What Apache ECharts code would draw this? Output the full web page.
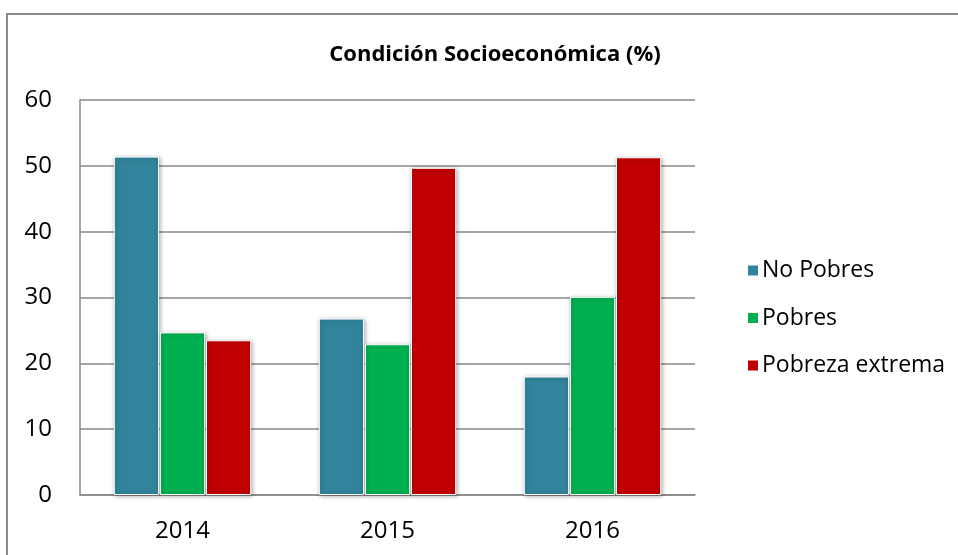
<!DOCTYPE html>
<html>
<head>
<meta charset="utf-8">
<script src="https://cdn.jsdelivr.net/npm/echarts@6/dist/echarts.min.js"></script>
<style>
  html, body { margin: 0; padding: 0; background: #fff; }
  #chart { width: 958px; height: 555px; }
</style>
</head>
<body>
<div id="chart"></div>
<script>
var years = ['2014', '2015', '2016'];
var noPobres = [51.4, 26.8, 18.0];
var pobres = [24.7, 22.9, 30.1];
var pobrezaExtrema = [23.5, 49.7, 51.3];
var seriesNames = ['No Pobres', 'Pobres', 'Pobreza extrema'];
var colors = ['#31849B', '#00B050', '#C00000'];

var myChart = echarts.init(document.getElementById('chart'));

function barSeries(name, data, color) {
  return {
    name: name,
    type: 'bar',
    data: data,
    barGap: '2%',
    barCategoryGap: '33%',
    itemStyle: {
      color: color,
      borderColor: '#fff',
      borderWidth: 1,
      shadowBlur: 4,
      shadowColor: 'rgba(0,0,0,0.3)',
      shadowOffsetX: 1,
      shadowOffsetY: 1
    }
  };
}

var option = {
  backgroundColor: '#fff',
  color: colors,
  textStyle: { fontFamily: 'Open Sans' },
  graphic: [{
    type: 'rect',
    shape: { x: 7, y: 14, width: 960, height: 560 },
    style: { fill: 'none', stroke: '#8a8a8a', lineWidth: 2 },
    silent: true
  }],
  title: {
    text: 'Condición Socioeconómica (%)',
    left: 490,
    top: 39,
    textAlign: 'center',
    textStyle: { fontSize: 22, fontWeight: 'bold', color: '#000', fontFamily: 'Open Sans' }
  },
  legend: {
    orient: 'vertical',
    left: 741,
    top: 254,
    itemWidth: 12,
    itemHeight: 12,
    itemGap: 24.5,
    icon: 'rect',
    data: seriesNames,
    textStyle: { fontSize: 23, color: '#000', fontFamily: 'Open Sans', padding: [0, 0, 0, -2] }
  },
  grid: { left: 80, right: 263, top: 100, bottom: 60 },
  xAxis: {
    type: 'category',
    data: years,
    axisLine: { lineStyle: { color: '#888', width: 1.5 } },
    axisTick: { show: false },
    axisLabel: { fontSize: 24, color: '#000', margin: 24 }
  },
  yAxis: {
    type: 'value',
    min: 0,
    max: 60,
    interval: 10,
    axisLine: { show: true, lineStyle: { color: '#888', width: 1.5 } },
    axisTick: { show: false },
    axisLabel: { fontSize: 24, color: '#000', margin: 28 },
    splitLine: { lineStyle: { color: '#888', width: 1.5 } }
  },
  series: [
    barSeries(seriesNames[0], noPobres, colors[0]),
    barSeries(seriesNames[1], pobres, colors[1]),
    barSeries(seriesNames[2], pobrezaExtrema, colors[2])
  ]
};

myChart.setOption(option);
</script>
</body>
</html>
